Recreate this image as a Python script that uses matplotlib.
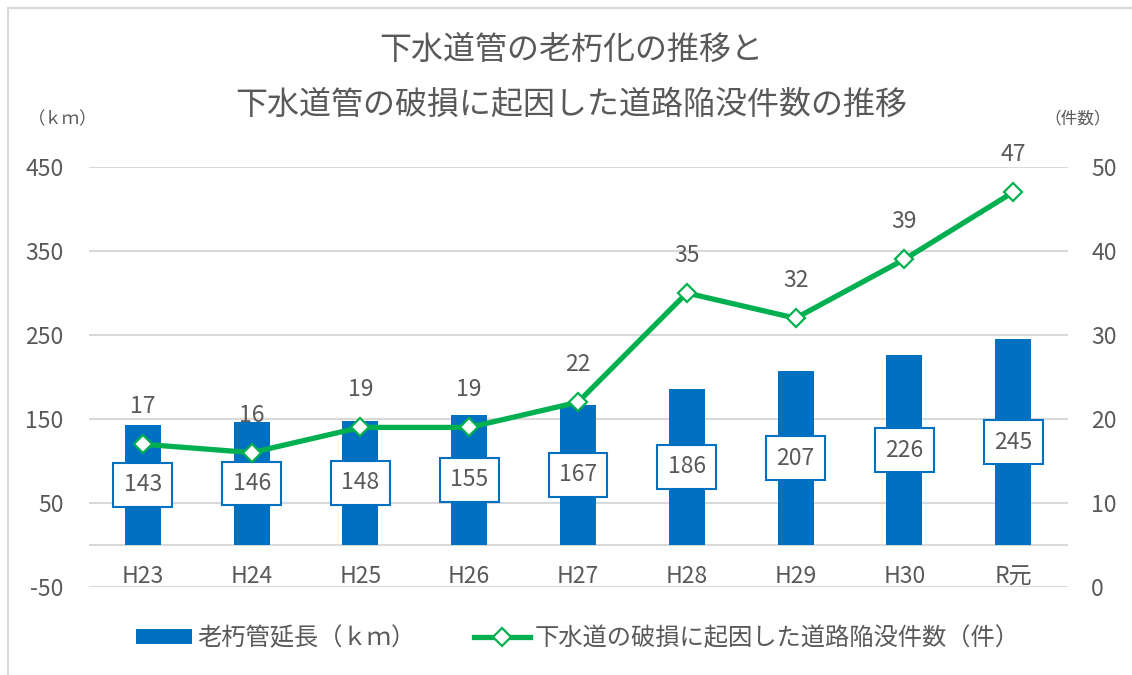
import numpy as np
import matplotlib
matplotlib.use('Agg')
import matplotlib.pyplot as plt
from matplotlib.patches import Rectangle, Patch
from matplotlib.lines import Line2D

plt.rcParams['font.family'] = ['Noto Sans CJK JP', 'DejaVu Sans']
plt.rcParams['axes.unicode_minus'] = False

# data
years = ['H23', 'H24', 'H25', 'H26', 'H27', 'H28', 'H29', 'H30', 'R元']
old_pipe_km = [143, 146, 148, 155, 167, 186, 207, 226, 245]
cave_ins = [17, 16, 19, 19, 22, 35, 32, 39, 47]

left_ticks = [-50, 50, 150, 250, 350, 450]
right_ticks = [0, 10, 20, 30, 40, 50]

title_1 = '下水道管の老朽化の推移と'
title_2 = '下水道管の破損に起因した道路陥没件数の推移'
bar_label = '老朽管延長（ｋｍ）'
line_label = '下水道の破損に起因した道路陥没件数（件）'

BLUE = '#0070C0'
GREEN = '#00B050'
GRAY = '#595959'
GRID = '#D9D9D9'
FS = 16.5

W, H = 1132, 675
fig = plt.figure(figsize=(W / 100, H / 100), dpi=100)
ax = fig.add_axes([88.5 / W, 1 - 587 / H, (1067.5 - 88.5) / W, (587 - 167) / H])
ax2 = ax.twinx()

x = np.arange(len(years))

# bars
ax.bar(x, old_pipe_km, width=0.33, color=BLUE, zorder=2)
for xi, v in zip(x, old_pipe_km):
    ax.text(xi, v / 2, str(v), ha='center', va='center', fontsize=FS,
            color=GRAY, zorder=5,
            bbox=dict(boxstyle='square,pad=0.45', fc='white', ec=BLUE, lw=1.5))

ax.set_xlim(-0.5, len(years) - 0.5)
ax.set_ylim(-50, 450)
ax.set_yticks(left_ticks)
ax.yaxis.grid(True, color=GRID, lw=1.5, zorder=0)
ax.set_axisbelow(True)
ax.axhline(0, color=GRID, lw=1.5, zorder=1)
ax.set_xticks([])
ax.tick_params(axis='y', length=0, pad=18, labelsize=FS, labelcolor=GRAY)
for xi, lab in zip(x, years):
    ax.text(xi, -38, lab, ha='center', va='center', fontsize=FS, color=GRAY)

# line
ax2.plot(x, cave_ins, color=GREEN, lw=3.8, marker='D', markersize=9,
         markerfacecolor='white', markeredgecolor=GREEN, markeredgewidth=1.6,
         zorder=4)
for xi, v in zip(x, cave_ins):
    ax2.annotate(str(v), (xi, v), xytext=(0, 27), textcoords='offset points',
                 ha='center', va='center', fontsize=FS, color=GRAY, zorder=6)
ax2.set_ylim(0, 50)
ax2.set_yticks(right_ticks)
ax2.tick_params(axis='y', length=0, pad=17, labelsize=FS, labelcolor=GRAY)

for a in (ax, ax2):
    for s in a.spines.values():
        s.set_visible(False)
ax2.patch.set_visible(False)

# titles and units
fig.text(0.505, 1 - 50 / H, title_1, ha='center', va='center', fontsize=23,
         color=GRAY)
fig.text(0.505, 1 - 105 / H, title_2, ha='center', va='center', fontsize=23,
         color=GRAY)
fig.text(63 / W, 1 - 119 / H, '（ｋｍ）', ha='center', va='center',
         fontsize=12.5, color=GRAY)
fig.text(1078 / W, 1 - 119 / H, '（件数）', ha='center', va='center',
         fontsize=12, color=GRAY)

# legend
handles = [Patch(facecolor=BLUE, edgecolor='none'),
           Line2D([0], [0], color=GREEN, lw=3.8, marker='D', markersize=9,
                  markerfacecolor='white', markeredgecolor=GREEN,
                  markeredgewidth=1.6)]
fig.legend(handles, [bar_label, line_label], loc='center',
           bbox_to_anchor=(578 / W, 1 - 638 / H), ncol=2, frameon=False,
           fontsize=17.5, labelcolor=GRAY, handlelength=2.3, handleheight=0.6,
           handletextpad=0.2, columnspacing=2.4)

# chart border
fig.patches.append(Rectangle((8 / W, -0.1), 2, 1 - 8 / H + 0.1,
                             transform=fig.transFigure, fill=False,
                             ec=GRID, lw=1.5))

fig.savefig('out.png', dpi=100, facecolor='white')
